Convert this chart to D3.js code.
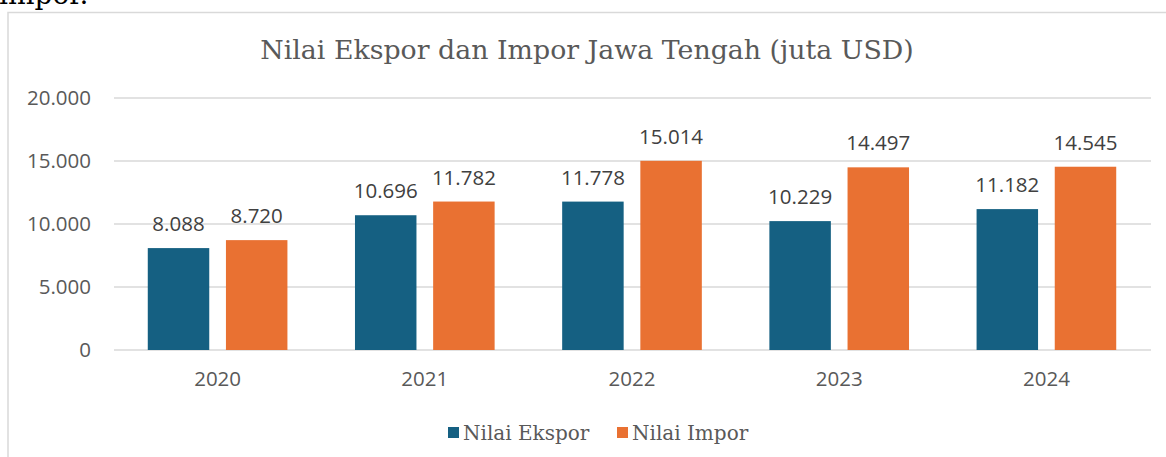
<!DOCTYPE html>
<html>
<head>
<meta charset="utf-8">
<script src="https://cdn.jsdelivr.net/npm/d3@7"></script>
<style>
  body { margin: 0; background: #fff; }
  svg { display: block; }
</style>
</head>
<body>
<svg id="chart" width="1166" height="457"></svg>
<script>
// data
const years = ['2020', '2021', '2022', '2023', '2024'];
const seriesNames = ['Nilai Ekspor', 'Nilai Impor'];
const ekspor = [8088, 10696, 11778, 10229, 11182];
const impor = [8720, 11782, 15014, 14497, 14545];
const yTicks = [0, 5000, 10000, 15000, 20000];
const colors = ['#156082', '#E97132'];

const svg = d3.select('#chart');

// leftover document text above the chart frame
svg.append('text')
    .attr('x', -1)
    .attr('y', 4)
    .style('font-family', 'DejaVu Serif')
    .style('font-size', '28px')
    .attr('fill', '#000')
    .text('impor.');

// chart frame (only left and top visible)
svg.append('rect')
    .attr('x', 8)
    .attr('y', 12.5)
    .attr('width', 1200)
    .attr('height', 500)
    .attr('fill', '#fff')
    .attr('stroke', '#d9d9d9')
    .attr('stroke-width', 1.5);

var x = d3.scaleBand()
    .domain(years)
    .range([114, 1150])
    .paddingInner(0.326)
    .paddingOuter(0.163);

var xs = d3.scaleBand()
    .domain(seriesNames)
    .range([0, x.bandwidth()])
    .paddingInner(0.2135);

var y = d3.scaleLinear()
    .domain([0, 20000])
    .range([350, 98]);

var fmt = d3.formatLocale({ decimal: ',', thousands: '.', grouping: [3], currency: ['', ''] }).format(',d');

// gridlines
svg.append('g')
    .selectAll('line')
    .data(yTicks)
    .enter()
    .append('line')
    .attr('x1', 114)
    .attr('x2', 1151)
    .attr('y1', d => y(d))
    .attr('y2', d => y(d))
    .attr('stroke', '#d9d9d9')
    .attr('stroke-width', 1.5);

// y tick labels
svg.append('g')
    .selectAll('text')
    .data(yTicks)
    .enter()
    .append('text')
    .attr('x', 91)
    .attr('y', d => y(d))
    .attr('dy', '0.36em')
    .attr('text-anchor', 'end')
    .style('font-family', 'Open Sans')
    .style('font-size', '20.5px')
    .attr('fill', '#595959')
    .text(d => fmt(d));

// x axis labels
var xAxis = svg.append('g')
    .attr('transform', 'translate(0,' + y(0) + ')')
    .call(d3.axisBottom(x).tickSize(0).tickPadding(21));
xAxis.select('.domain').remove();
xAxis.selectAll('text')
    .style('font-family', 'Open Sans')
    .style('font-size', '20.5px')
    .attr('fill', '#595959');

var rows = years.map((yr, i) => ({ year: yr, values: [ekspor[i], impor[i]] }));

var groups = svg.append('g')
    .selectAll('g')
    .data(rows)
    .enter()
    .append('g')
    .attr('transform', d => 'translate(' + x(d.year) + ',0)');

groups.selectAll('rect')
    .data(d => d.values.map((v, j) => ({ name: seriesNames[j], value: v, j: j })))
    .enter()
    .append('rect')
    .attr('x', d => xs(d.name))
    .attr('y', d => y(d.value))
    .attr('width', xs.bandwidth())
    .attr('height', d => y(0) - y(d.value))
    .attr('fill', d => colors[d.j]);

// value labels above bars
groups.selectAll('text')
    .data(d => d.values.map((v, j) => ({ name: seriesNames[j], value: v })))
    .enter()
    .append('text')
    .attr('x', d => xs(d.name) + xs.bandwidth() / 2)
    .attr('y', d => y(d.value) - 17)
    .attr('text-anchor', 'middle')
    .style('font-family', 'Open Sans')
    .style('font-size', '20.5px')
    .attr('fill', '#404040')
    .text(d => fmt(d.value));

// title
svg.append('text')
    .attr('x', 587)
    .attr('y', 59)
    .attr('text-anchor', 'middle')
    .style('font-family', 'DejaVu Serif')
    .style('font-size', '26.8px')
    .attr('fill', '#595959')
    .text('Nilai Ekspor dan Impor Jawa Tengah (juta USD)');

// legend
var legendX = [448, 617];
var legend = svg.append('g')
    .selectAll('g')
    .data(seriesNames)
    .enter()
    .append('g')
    .attr('transform', (d, i) => 'translate(' + legendX[i] + ',427)');
legend.append('rect')
    .attr('width', 11)
    .attr('height', 11)
    .attr('fill', (d, i) => colors[i]);
legend.append('text')
    .attr('x', 15)
    .attr('y', 12.5)
    .style('font-family', 'DejaVu Serif')
    .style('font-size', '20px')
    .attr('fill', '#595959')
    .text(d => d);
</script>
</body>
</html>
